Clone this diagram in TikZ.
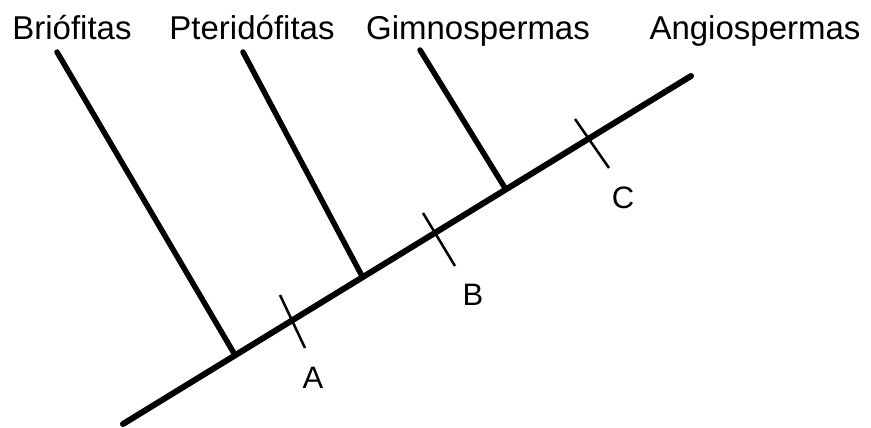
\documentclass[tikz,border=0pt]{standalone}
\usepackage{fontspec}
\setmainfont{Liberation Sans}
\usetikzlibrary{positioning,calc}

\begin{document}
\begin{tikzpicture}[
    x=1pt, y=-1pt,
    taxon/.style={
      anchor=base,
      inner sep=0pt,
      font=\fontsize{33}{38}\selectfont
    },
    trait/.style={
      inner sep=0pt,
      font=\fontsize{31}{36}\selectfont
    },
    trunk/.style={
      line width=6pt,
      line cap=round
    },
    branch/.style={
      line width=5.5pt,
      line cap=round
    },
    tick/.style={
      line width=2.5pt
    }
  ]
  \useasboundingbox (0,0) rectangle (871,428);

  % Taxa
  \node[taxon] (brio)  at ( 72,40) {Briófitas};
  \node[taxon] (pteri) at (252,40) {Pteridófitas};
  \node[taxon] (gimno) at (478,40) {Gimnospermas};
  \node[taxon] (angio) at (755,40) {Angiospermas};

  % Trunk
  \coordinate (root) at (123,424);
  \coordinate (tip)  at (691,76);
  \coordinate (j1) at (235,355);
  \coordinate (j2) at (362,276);
  \coordinate (j3) at (505,188);

  % Branch tips
  \coordinate (t1) at ( 57,52);
  \coordinate (t2) at (243,52);
  \coordinate (t3) at (420,50);

  % Ticks
  \coordinate (a1) at (280,295);
  \coordinate (a2) at (305,348);
  \coordinate (b1) at (423,213);
  \coordinate (b2) at (455,266);
  \coordinate (c1) at (575,119);
  \coordinate (c2) at (609,168);

  % Trait labels
  \node[trait] (labA) at (313,378) {A};
  \node[trait] (labB) at (473,295) {B};
  \node[trait] (labC) at (623,198) {C};

  % Lines
  \draw[trunk]  (root) -- (tip);
  \draw[branch] (t1) -- (j1);
  \draw[branch] (t2) -- (j2);
  \draw[branch] (t3) -- (j3);
  \draw[tick] (a1) -- (a2);
  \draw[tick] (b1) -- (b2);
  \draw[tick] (c1) -- (c2);

\end{tikzpicture}
\end{document}
